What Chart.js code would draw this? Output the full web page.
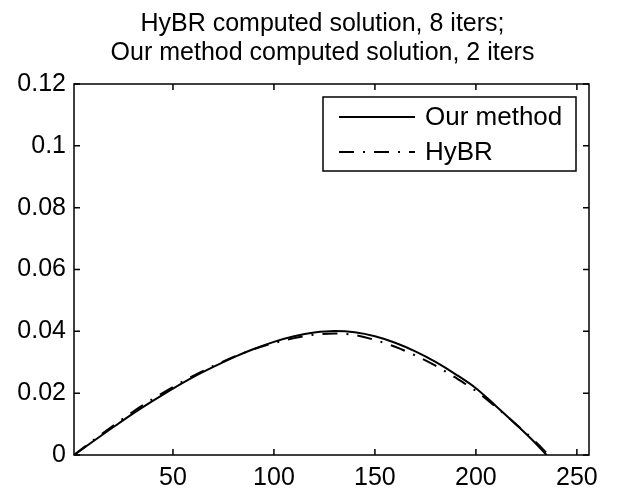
<!DOCTYPE html>
<html>
<head>
<meta charset="utf-8">
<script src="https://cdn.jsdelivr.net/npm/chart.js@4/dist/chart.umd.min.js"></script>
<style>
  html, body { margin: 0; padding: 0; background: #fff; }
  #wrap { width: 619px; height: 498px; }
</style>
</head>
<body>
<div id="wrap"><canvas id="grafico" width="619" height="498"></canvas></div>
<script>
// values
const xOurs = [1, 10, 20, 30, 40, 50, 60, 70, 80, 90, 100, 110, 120, 130, 140, 150, 160, 170, 180, 190, 200, 210, 220, 230, 235];
const ours  = [0, 0.0042, 0.0088, 0.0133, 0.0175, 0.0215, 0.0252, 0.0285, 0.0316, 0.0343, 0.0366, 0.0384, 0.0396, 0.0401, 0.0397, 0.0384, 0.0363, 0.0335, 0.0301, 0.0261, 0.0216, 0.0158, 0.0098, 0.0035, 0];
const xHybr = [1, 10, 20, 30, 40, 50, 60, 70, 80, 90, 100, 110, 120, 130, 140, 150, 160, 170, 180, 190, 200, 210, 220, 230, 236];
const hybr  = [0, 0.0045, 0.0093, 0.0139, 0.0181, 0.0220, 0.0256, 0.0288, 0.0317, 0.0342, 0.0362, 0.0378, 0.0389, 0.0393, 0.0388, 0.0372, 0.0350, 0.0322, 0.0289, 0.0250, 0.0207, 0.0155, 0.0099, 0.0040, 0];

const xTicks = [50, 100, 150, 200, 250];
const yTicks = [0, 0.02, 0.04, 0.06, 0.08, 0.1, 0.12];
const titulo = ['HyBR computed solution, 8 iters;', 'Our method computed solution, 2 iters'];

const fonte = 'Liberation Sans, Arial, Helvetica, sans-serif';
Chart.defaults.color = '#000';
Chart.defaults.font.family = fonte;

// title over the axes, box round the axes, inward ticks on all four sides, legend inside
const caixa = {
  id: 'caixa',
  afterDraw(chart) {
    const ctx = chart.ctx;
    const a = chart.chartArea;
    const sx = chart.scales.x, sy = chart.scales.y;
    ctx.save();

    // title
    ctx.fillStyle = '#000';
    ctx.font = '25px ' + fonte;
    ctx.textAlign = 'center';
    ctx.textBaseline = 'middle';
    const cx = (a.left + a.right) / 2 - 9;
    titulo.forEach((linha, i) => ctx.fillText(linha, cx, 24 + i * 28.8));

    ctx.strokeStyle = '#000';
    ctx.lineWidth = 1.5;
    ctx.setLineDash([]);
    ctx.strokeRect(a.left, a.top, a.right - a.left, a.bottom - a.top);
    const t = 6;
    ctx.beginPath();
    sx.ticks.forEach(tk => {
      const px = sx.getPixelForValue(tk.value);
      ctx.moveTo(px, a.bottom); ctx.lineTo(px, a.bottom - t);
      ctx.moveTo(px, a.top); ctx.lineTo(px, a.top + t);
    });
    sy.ticks.forEach(tk => {
      const py = sy.getPixelForValue(tk.value);
      ctx.moveTo(a.left, py); ctx.lineTo(a.left + t, py);
      ctx.moveTo(a.right, py); ctx.lineTo(a.right - t, py);
    });
    ctx.stroke();

    // legend
    const bx = a.right - 266, by = a.top + 13, bw = 253, bh = 74;
    ctx.fillStyle = '#fff';
    ctx.fillRect(bx, by, bw, bh);
    ctx.lineWidth = 1.5;
    ctx.strokeRect(bx, by, bw, bh);
    ctx.font = '26px ' + fonte;
    ctx.textAlign = 'left';
    ctx.textBaseline = 'middle';
    ctx.fillStyle = '#000';
    chart.data.datasets.forEach((ds, i) => {
      const yy = by + 20 + i * 35;
      ctx.beginPath();
      ctx.lineWidth = ds.borderWidth;
      ctx.setLineDash(ds.borderDash || []);
      ctx.moveTo(bx + 16, yy);
      ctx.lineTo(bx + 92, yy);
      ctx.stroke();
      ctx.setLineDash([]);
      ctx.fillText(ds.label, bx + 102, yy + 1);
    });
    ctx.restore();
  }
};

new Chart(document.getElementById('grafico'), {
  type: 'line',
  data: {
    datasets: [{
      label: 'Our method',
      data: xOurs.map((x, i) => ({ x: x, y: ours[i] })),
      borderColor: '#000',
      borderWidth: 2,
      borderDash: [],
      pointRadius: 0,
      cubicInterpolationMode: 'monotone'
    }, {
      label: 'HyBR',
      data: xHybr.map((x, i) => ({ x: x, y: hybr[i] })),
      borderColor: '#000',
      borderWidth: 2,
      borderDash: [15, 9, 2, 9],
      pointRadius: 0,
      cubicInterpolationMode: 'monotone'
    }]
  },
  options: {
    responsive: false,
    animation: false,
    layout: { padding: { left: 0, right: 30, top: 84, bottom: 0 } },
    plugins: {
      legend: { display: false },
      tooltip: { enabled: false },
      title: { display: false }
    },
    scales: {
      x: {
        type: 'linear',
        min: 1,
        max: 256,
        grid: { display: false, drawTicks: false },
        border: { display: false },
        afterBuildTicks: s => { s.ticks = xTicks.map(v => ({ value: v })); },
        afterFit: s => { s.height = 43; },
        ticks: { font: { size: 25 }, padding: 8, maxRotation: 0, autoSkip: false }
      },
      y: {
        min: 0,
        max: 0.12,
        grid: { display: false, drawTicks: false },
        border: { display: false },
        afterBuildTicks: s => { s.ticks = yTicks.map(v => ({ value: v })); },
        afterFit: s => { s.width = 74; },
        ticks: {
          font: { size: 25 },
          padding: 8,
          autoSkip: false,
          callback: v => String(+v.toFixed(2))
        }
      }
    }
  },
  plugins: [caixa]
});
</script>
</body>
</html>
